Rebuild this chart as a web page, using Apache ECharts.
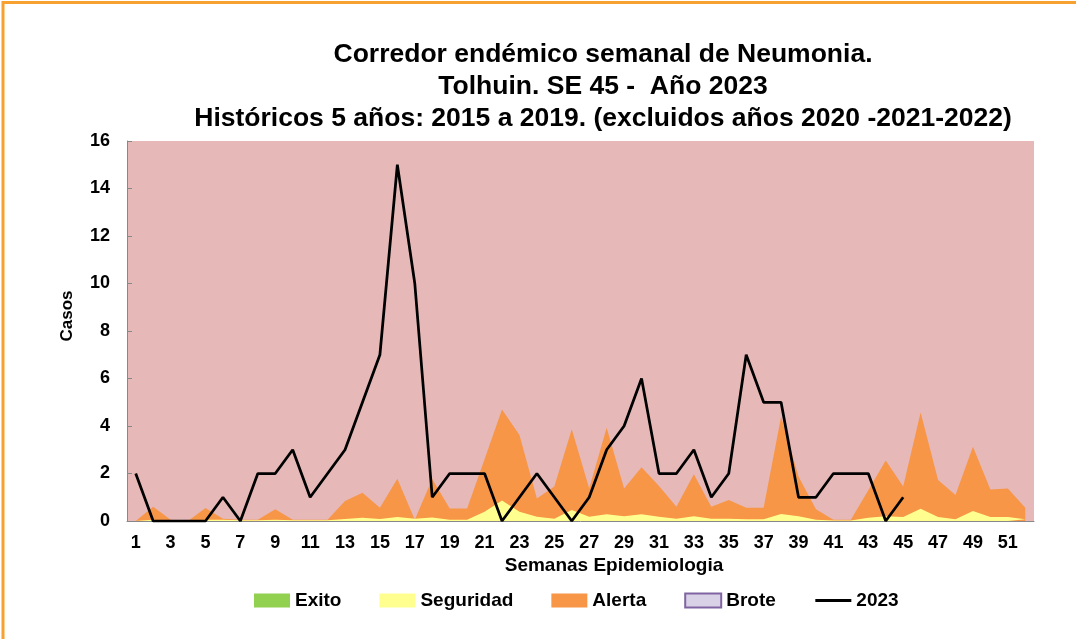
<!DOCTYPE html>
<html>
<head>
<meta charset="utf-8">
<title>Corredor endémico semanal de Neumonia</title>
<script src="https://cdn.jsdelivr.net/npm/echarts@6/dist/echarts.min.js"></script>
<style>
  html, body { margin: 0; padding: 0; background: #fff; }
  #chart { width: 1076px; height: 639px; }
</style>
</head>
<body>
<div id="chart"></div>
<script>
// semanas epidemiologicas
var semanas = ['1','2','3','4','5','6','7','8','9','10','11','12','13','14','15','16','17','18','19','20',
  '21','22','23','24','25','26','27','28','29','30','31','32','33','34','35','36','37','38','39','40',
  '41','42','43','44','45','46','47','48','49','50','51','52']

// limites del corredor (valor acumulado de cada zona)
var exito = [0,0,0,0,0,0,0,0,0,0,0,0,0,0,0,0,0,0,0,0,
  0,0,0,0,0,0,0,0,0,0,0,0,0,0,0,0,0,0,0,0,
  0,0,0,0,0,0,0,0,0,0,0,0]
var seguridad = [0,0.05,0,0,0.05,0.05,0.03,0.03,0.05,0.03,0.03,0.03,0.08,0.14,0.08,0.17,0.1,0.15,0.05,0.05,
  0.39,0.86,0.39,0.18,0.1,0.46,0.18,0.28,0.2,0.28,0.18,0.1,0.2,0.1,0.1,0.07,0.07,0.3,0.2,0.05,
  0.02,0.02,0.14,0.2,0.17,0.52,0.17,0.07,0.42,0.17,0.17,0.07]
var alerta = [0,0.6,0.05,0,0.55,0.1,0.05,0.05,0.5,0.05,0.05,0.05,0.84,1.19,0.56,1.78,0.05,1.77,0.53,0.53,
  2.6,4.7,3.62,0.95,1.45,3.86,1.37,3.93,1.37,2.26,1.47,0.6,1.97,0.6,0.88,0.56,0.56,4.39,1.87,0.5,
  0.05,0.05,1.3,2.55,1.45,4.57,1.73,1.1,3.13,1.33,1.37,0.56]
// casos 2023 (hasta SE 45)
var casos2023 = [2,0,0,0,0,1,0,2,2,3,1,2,3,5,7,15,10,1,2,2,
  2,0,1,2,1,0,1,3,4,6,2,2,3,1,2,7,5,5,1,1,
  2,2,2,0,1]

var chart = echarts.init(document.getElementById('chart'))

function areaSerie(nombre, datos, color, z) {
  return {
    name: nombre,
    type: 'line',
    data: datos,
    symbol: 'none',
    color: color,
    lineStyle: { width: 0 },
    areaStyle: { color: color, opacity: 1 },
    z: z,
    silent: true
  }
}

var fuente = 'Arial, "Liberation Sans", sans-serif'

var option = {
  animation: false,
  backgroundColor: '#fff',
  textStyle: { fontFamily: fuente },
  title: {
    text: 'Corredor endémico semanal de Neumonia.\nTolhuin. SE 45 -  Año 2023\nHistóricos 5 años: 2015 a 2019. (excluidos años 2020 -2021-2022)',
    left: 598,
    top: 34,
    textAlign: 'center',
    textStyle: {
      fontSize: 26.5,
      fontWeight: 'bold',
      color: '#000',
      lineHeight: 32
    }
  },
  graphic: [
    { type: 'line', shape: { x1: 2, y1: 2.5, x2: 1076, y2: 2.5 }, style: { stroke: '#F7A130', lineWidth: 3 } },
    { type: 'line', shape: { x1: 3, y1: 1, x2: 3, y2: 639 }, style: { stroke: '#F7A130', lineWidth: 3 } },
    {
      type: 'text', x: 67, y: 316, rotation: Math.PI / 2,
      style: { text: 'Casos', fontSize: 17, fontWeight: 'bold', fontFamily: fuente, fill: '#000', align: 'center', verticalAlign: 'middle' }
    },
    {
      type: 'text', x: 614, y: 566,
      style: { text: 'Semanas Epidemiologia', fontSize: 19, fontWeight: 'bold', fontFamily: fuente, fill: '#000', align: 'center', verticalAlign: 'middle' }
    }
  ],
  legend: {
    left: 249,
    top: 586,
    itemWidth: 36,
    itemHeight: 14,
    itemGap: 38,
    textStyle: { fontSize: 19, fontWeight: 'bold', color: '#000' },
    data: [
      { name: 'Exito', icon: 'rect' },
      { name: 'Seguridad', icon: 'rect' },
      { name: 'Alerta', icon: 'rect' },
      { name: 'Brote', icon: 'rect', itemStyle: { color: '#D9D1E6', borderColor: '#8064A2', borderWidth: 2 } },
      { name: '2023', itemStyle: { opacity: 0 }, lineStyle: { width: 3, color: '#000' } }
    ]
  },
  grid: {
    left: 127,
    right: 42,
    top: 141,
    bottom: 118,
    show: true,
    backgroundColor: '#E6B8B7',
    borderWidth: 0
  },
  xAxis: {
    type: 'category',
    data: semanas,
    boundaryGap: true,
    axisLine: { lineStyle: { color: '#888', width: 1 } },
    axisTick: { inside: true, length: 6, interval: 0, lineStyle: { color: '#888' } },
    axisLabel: { interval: 1, fontSize: 18, fontWeight: 'bold', color: '#000', margin: 13 }
  },
  yAxis: {
    type: 'value',
    min: 0,
    max: 16,
    interval: 2,
    axisLine: { show: true, lineStyle: { color: '#888', width: 1 } },
    axisTick: { show: true, inside: true, length: 5, lineStyle: { color: '#888' } },
    splitLine: { show: false },
    axisLabel: { fontSize: 18, fontWeight: 'bold', color: '#000', margin: 17 }
  },
  series: [
    areaSerie('Alerta', alerta, '#F79646', 2),
    areaSerie('Seguridad', seguridad, '#FFFF8F', 3),
    areaSerie('Exito', exito, '#92D050', 4),
    {
      name: 'Brote',
      type: 'line',
      data: [],
      symbol: 'none',
      color: '#D9D1E6',
      lineStyle: { width: 0 }
    },
    {
      name: '2023',
      type: 'line',
      data: casos2023,
      symbol: 'none',
      color: '#000',
      lineStyle: { color: '#000', width: 2.75 },
      z: 5
    }
  ]
}

chart.setOption(option)
</script>
</body>
</html>
